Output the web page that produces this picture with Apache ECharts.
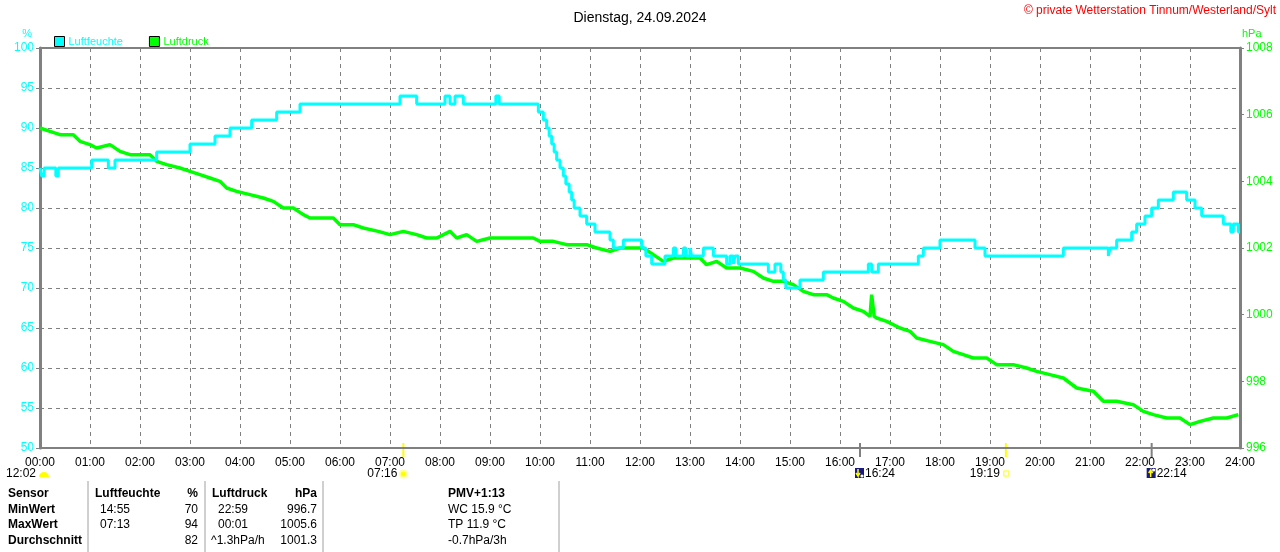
<!DOCTYPE html>
<html lang="de" style="height: 100%">
<head>
    <meta charset="utf-8">
</head>
<body style="height: 100%; margin: 0; background: #fff">
<div id="container" style="width: 1280px; height: 552px"></div>

<script type="text/javascript" src="https://cdn.jsdelivr.net/npm/echarts@6.0.0/dist/echarts.min.js"></script>
<script type="text/javascript">
    // Luftfeuchte (%) als Stufen: [Minute des Tages, Wert]
    var humData = [
      [0, 85], [2, 84], [5, 85], [19, 84], [22, 85], [62, 86], [82, 85], [90, 86],
      [140, 87], [180, 88], [210, 89], [228, 90], [254, 91], [284, 92], [312, 93],
      [432, 94], [452, 93], [486, 94], [492, 93], [498, 94], [508, 93], [547, 94], [551, 93],
      [598, 92], [604, 91], [608, 90], [611, 89], [614, 88], [617, 87], [620, 86], [624, 85],
      [628, 84], [631, 83], [635, 82], [638, 81], [641, 80], [648, 79], [656, 78], [666, 77],
      [684, 76], [688, 75], [700, 76], [722, 75], [727, 74], [734, 73], [750, 74],
      [760, 75], [763, 74], [772, 75], [775, 74], [780, 75], [782, 74], [796, 75], [808, 74],
      [824, 73], [828, 74], [832, 73], [834, 74], [838, 73], [874, 72], [882, 73],
      [889, 72], [892, 71], [895, 70], [912, 71], [940, 72], [994, 73], [998, 72], [1006, 73],
      [1054, 74], [1060, 75], [1080, 76], [1122, 75], [1134, 74], [1228, 75], [1282, 74],
      [1284, 75], [1292, 76], [1310, 77], [1316, 78], [1326, 79], [1334, 80], [1342, 81],
      [1360, 82], [1376, 81], [1386, 80], [1394, 79], [1420, 78], [1429, 77], [1432, 78],
      [1438, 77], [1440, 77]
    ];

    // Luftdruck (hPa): [Minute des Tages, Wert]
    var pressData = [
      [0, 1005.6], [12, 1005.5], [24, 1005.4], [40, 1005.4], [48, 1005.2], [60, 1005.1],
      [68, 1005.0], [84, 1005.1], [96, 1004.9], [108, 1004.8], [120, 1004.8], [132, 1004.8],
      [140, 1004.6], [152, 1004.5], [168, 1004.4], [180, 1004.3], [192, 1004.2], [204, 1004.1],
      [216, 1004.0], [224, 1003.8], [236, 1003.7], [252, 1003.6], [268, 1003.5], [280, 1003.4],
      [292, 1003.2], [304, 1003.2], [316, 1003.0], [324, 1002.9], [340, 1002.9], [352, 1002.9],
      [360, 1002.7], [376, 1002.7], [388, 1002.6], [406, 1002.5], [420, 1002.4], [436, 1002.5],
      [452, 1002.4], [464, 1002.3], [476, 1002.3], [492, 1002.5], [500, 1002.3], [512, 1002.4],
      [524, 1002.2], [540, 1002.3], [552, 1002.3], [564, 1002.3], [580, 1002.3], [592, 1002.3],
      [600, 1002.2], [616, 1002.2], [632, 1002.1], [644, 1002.1], [656, 1002.1], [668, 1002.0],
      [684, 1001.9], [696, 1002.0], [708, 1002.0], [724, 1002.0], [736, 1001.8], [748, 1001.6],
      [760, 1001.7], [776, 1001.7], [792, 1001.7], [800, 1001.5], [812, 1001.6], [824, 1001.4],
      [840, 1001.4], [856, 1001.3], [868, 1001.1], [880, 1001.0], [892, 1001.0], [904, 1000.9],
      [916, 1000.7], [928, 1000.6], [944, 1000.6], [952, 1000.5], [964, 1000.4], [976, 1000.2],
      [988, 1000.1], [996, 999.95], [998, 1000.6], [1001, 999.95], [1004, 999.9], [1016, 999.8],
      [1032, 999.6], [1044, 999.5], [1052, 999.3], [1068, 999.2], [1084, 999.1], [1096, 998.9],
      [1108, 998.8], [1120, 998.7], [1136, 998.7], [1148, 998.5], [1168, 998.5], [1184, 998.4],
      [1196, 998.3], [1212, 998.2], [1228, 998.1], [1244, 997.8], [1264, 997.7], [1276, 997.4],
      [1292, 997.4], [1312, 997.3], [1324, 997.1], [1336, 997.0], [1352, 996.9], [1368, 996.9],
      [1380, 996.7], [1392, 996.8], [1408, 996.9], [1424, 996.9], [1438, 997.0]
    ];

    // Sonne / Mond Ereignisse (Minute, Text, Art)
    var events = [
      { min: 436, label: '07:16', kind: 'sunrise' },
      { min: 984, label: '16:24', kind: 'moonset' },
      { min: 1159, label: '19:19', kind: 'sunset' },
      { min: 1334, label: '22:14', kind: 'moonrise' }
    ];

    // Tabelle unten
    var tableRows = ['Sensor', 'MinWert', 'MaxWert', 'Durchschnitt'];
    var humTimes = ['', '14:55', '07:13', ''];
    var humVals = ['%', '70', '94', '82'];
    var pressTimes = ['', '22:59', '00:01', '^1.3hPa/h'];
    var pressVals = ['hPa', '996.7', '1005.6', '1001.3'];
    var pmvTexts = ['PMV+1:13', 'WC 15.9 °C', 'TP 11.9 °C', '-0.7hPa/3h'];

    var FONT = '"Liberation Sans", Arial, sans-serif';
    var CYAN = '#00ffff';
    var GREEN = '#00ff00';
    var GRID = '#808080';

    function hm(m) {
      var h = Math.floor(m / 60), mm = m % 60;
      return (h < 10 ? '0' : '') + h + ':' + (mm < 10 ? '0' : '') + mm;
    }

    var dom = document.getElementById('container');
    var myChart = echarts.init(dom, null, { renderer: 'canvas' });

    var option = {
      animation: false,
      backgroundColor: '#fff',
      textStyle: { fontFamily: FONT },
      title: {
        text: 'Dienstag, 24.09.2024',
        left: 'center',
        top: 6,
        textStyle: { fontSize: 14, fontWeight: 'normal', color: '#000', fontFamily: FONT }
      },
      legend: {
        left: 49,
        top: 31,
        icon: 'rect',
        itemWidth: 10,
        itemHeight: 10,
        itemGap: 26,
        textStyle: { fontSize: 11, fontFamily: FONT, padding: [0, 0, 0, -1] },
        itemStyle: { borderColor: '#000', borderWidth: 1 },
        data: [
          { name: 'Luftfeuchte', textStyle: { color: CYAN } },
          { name: 'Luftdruck', textStyle: { color: GREEN } }
        ]
      },
      grid: {
        left: 40, right: 40, top: 48, bottom: 104,
        show: true, borderColor: GRID, borderWidth: 2, backgroundColor: '#fff'
      },
      xAxis: {
        type: 'value',
        min: 0,
        max: 1440,
        interval: 60,
        axisLine: { show: true, lineStyle: { color: GRID, width: 2 } },
        axisTick: { show: false },
        axisLabel: {
          color: '#000', fontSize: 12, fontFamily: FONT, margin: 9,
          formatter: function (v) { return hm(v); }
        },
        splitLine: { show: true, lineStyle: { color: GRID, type: [4, 4], width: 1 } }
      },
      yAxis: [
        {
          type: 'value',
          min: 50,
          max: 100,
          interval: 5,
          name: '%',
          nameGap: 9,
          nameTextStyle: { color: CYAN, fontSize: 11, fontFamily: FONT, align: 'right', padding: [0, 8, 0, 0] },
          axisLine: { show: true, lineStyle: { color: GRID, width: 3 } },
          axisTick: { show: true, length: 4, lineStyle: { color: GRID } },
          axisLabel: { color: CYAN, fontSize: 12, fontFamily: FONT, margin: 6 },
          splitLine: { show: true, lineStyle: { color: GRID, type: [4, 4], width: 1 } }
        },
        {
          type: 'value',
          min: 996,
          max: 1008,
          interval: 2,
          position: 'right',
          name: 'hPa',
          nameGap: 9,
          nameTextStyle: { color: GREEN, fontSize: 11, fontFamily: FONT, align: 'left', padding: [0, 0, 0, 2] },
          axisLine: { show: true, lineStyle: { color: GRID, width: 3 } },
          axisTick: { show: true, length: 4, lineStyle: { color: GRID } },
          axisLabel: {
            color: GREEN, fontSize: 12, fontFamily: FONT, margin: 6,
            formatter: function (v) { return String(v); }
          },
          splitLine: { show: false }
        }
      ],
      series: [
        {
          name: 'Luftdruck',
          type: 'line',
          yAxisIndex: 1,
          data: pressData,
          symbol: 'none',
          color: GREEN,
          lineStyle: { color: GREEN, width: 3.5 },
          z: 3
        },
        {
          name: 'Luftfeuchte',
          type: 'line',
          yAxisIndex: 0,
          data: humData,
          step: 'end',
          symbol: 'none',
          color: CYAN,
          lineStyle: { color: CYAN, width: 3 },
          z: 4
        }
      ]
    };
    myChart.setOption(option);

    // Zusatzgrafik: Copyright, Ereignisse, Tabelle
    function buildGraphic() {
      var g = [];
      g.push({
        type: 'text', right: 4, top: 5,
        style: { text: '© private Wetterstation Tinnum/Westerland/Sylt', fill: '#ff0000', font: '12px ' + FONT }
      });

      // Mond 12:02 am Tagesanfang
      var x0 = myChart.convertToPixel({ xAxisIndex: 0 }, 0);
      g.push({ type: 'text', x: x0 - 4, y: 474, style: { text: '12:02', fill: '#000', font: '12px ' + FONT, align: 'right', verticalAlign: 'middle' } });
      g.push({ type: 'sector', shape: { cx: x0 + 4, cy: 477, r: 5, startAngle: Math.PI, endAngle: 2 * Math.PI }, style: { fill: '#ffff00' } });

      events.forEach(function (ev) {
        var x = myChart.convertToPixel({ xAxisIndex: 0 }, ev.min);
        var isSun = ev.kind === 'sunrise' || ev.kind === 'sunset';
        g.push({
          type: 'line',
          shape: { x1: x, y1: 443, x2: x, y2: 457 },
          style: { stroke: isSun ? '#ffff00' : GRID, lineWidth: 2 }
        });
        if (ev.kind === 'sunrise') {
          g.push({ type: 'text', x: x - 6, y: 474, style: { text: ev.label, fill: '#000', font: '12px ' + FONT, align: 'right', verticalAlign: 'middle' } });
          g.push({ type: 'circle', shape: { cx: x, cy: 474, r: 3.5 }, style: { fill: '#ffff00', stroke: '#ffff99', lineWidth: 2 } });
        } else if (ev.kind === 'sunset') {
          g.push({ type: 'text', x: x - 6, y: 474, style: { text: ev.label, fill: '#000', font: '12px ' + FONT, align: 'right', verticalAlign: 'middle' } });
          g.push({ type: 'rect', shape: { x: x - 2, y: 471, width: 5, height: 5 }, style: { fill: '#fff', stroke: '#ffff00', lineWidth: 1 } });
        } else {
          g.push({ type: 'rect', shape: { x: x - 5, y: 468, width: 9, height: 10 }, style: { fill: '#1a1a80' } });
          g.push({
            type: 'polyline',
            shape: { points: ev.kind === 'moonset' ? [[x - 2, 469], [x - 2, 476], [x - 4, 473], [x - 2, 476], [x, 473]] : [[x - 1, 477], [x - 1, 470], [x - 3, 473], [x - 1, 470], [x + 1, 473]] },
            style: { stroke: '#ffff00', lineWidth: 1.5, fill: null }
          });
          g.push({ type: 'circle', shape: { cx: x + 2, cy: ev.kind === 'moonset' ? 476 : 470, r: 1.6 }, style: { fill: '#ffffff' } });
          g.push({ type: 'text', x: x + 5, y: 474, style: { text: ev.label, fill: '#000', font: '12px ' + FONT, align: 'left', verticalAlign: 'middle' } });
        }
      });

      // Tabelle
      var rowY = [494, 510, 525, 541];
      [88, 205, 323, 559].forEach(function (sx) {
        g.push({ type: 'line', shape: { x1: sx, y1: 481, x2: sx, y2: 552 }, style: { stroke: '#a0a0a0', lineWidth: 1 } });
      });
      function txt(x, y, s, bold, align) {
        g.push({ type: 'text', x: x, y: y, style: { text: s, fill: '#000', font: (bold ? 'bold ' : '') + '12px ' + FONT, align: align || 'left', verticalAlign: 'middle' } });
      }
      tableRows.forEach(function (r, i) {
        txt(8, rowY[i], r, true);
        if (i === 0) {
          txt(95, rowY[i], 'Luftfeuchte', true);
          txt(212, rowY[i], 'Luftdruck', true);
        }
        txt(100, rowY[i], humTimes[i], false);
        txt(198, rowY[i], humVals[i], i === 0, 'right');
        txt(i === 3 ? 211 : 218, rowY[i], pressTimes[i], false);
        txt(317, rowY[i], pressVals[i], i === 0, 'right');
        txt(448, rowY[i], pmvTexts[i], i === 0);
      });
      return g;
    }

    myChart.setOption({ graphic: buildGraphic() });

    window.addEventListener('resize', myChart.resize);
</script>
</body>
</html>
